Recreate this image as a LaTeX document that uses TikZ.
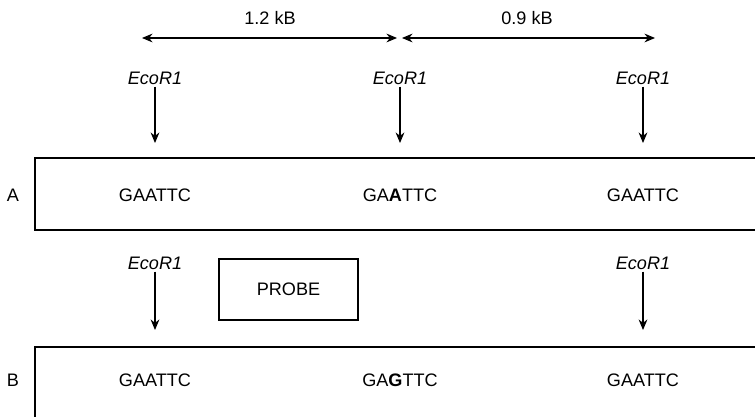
\documentclass[tikz,border=0pt]{standalone}
\usepackage{fontspec}
\setmainfont{Liberation Sans}
\usetikzlibrary{arrows.meta}
\begin{document}
\begin{tikzpicture}[font=\fontsize{10.3}{12}\selectfont, >={Stealth[length=6pt,width=5pt]}, line width=0.6pt]
    \useasboundingbox (0,0) rectangle (15.1,8.34);
    \tikzset{site/.style={font=\fontsize{10.3}{12}\selectfont\itshape, inner sep=1pt},
             probebox/.style={draw, minimum width=2.78cm, minimum height=1.22cm}}

    % Fragment lengths
    \coordinate (leftA) at (2.84,7.58);
    \coordinate (rightA) at (7.94,7.58);
    \coordinate (leftB) at (8.04,7.58);
    \coordinate (rightB) at (13.1,7.58);
    \draw[<->] (leftA) -- (rightA);
    \draw[<->] (leftB) -- (rightB);
    \node (lenA) at (5.4,7.98) {1.2 kB};
    \node (lenB) at (10.54,7.98) {0.9 kB};

    % Strand A
    \draw[line width=0.8pt] (15.1,5.18) -| (0.7,3.74) -- (15.1,3.74);
    \node (labelA) at (0.26,4.44) {A};
    \foreach \x/\n in {3.1/1,8.0/2,12.86/3} {
        \node[site] (ecoA\n) at (\x,6.78) {EcoR1};
        \coordinate (cutA\n) at (\x,5.48);
        \draw[->] (ecoA\n) -- (cutA\n);
    }
    \node (seqA1) at (3.1,4.44) {GAATTC};
    \node (seqA2) at (8.0,4.44) {GA\textbf{A}TTC};
    \node (seqA3) at (12.86,4.44) {GAATTC};

    % Probe
    \node[probebox] (probe) at (5.77,2.55) {PROBE};

    % Strand B
    \draw[line width=0.8pt] (15.1,1.4) -| (0.7,0);
    \node (labelB) at (0.26,0.74) {B};
    \foreach \x/\n in {3.1/1,12.86/3} {
        \node[site] (ecoB\n) at (\x,3.08) {EcoR1};
        \coordinate (cutB\n) at (\x,1.74);
        \draw[->] (ecoB\n) -- (cutB\n);
    }
    \node (seqB1) at (3.1,0.74) {GAATTC};
    \node (seqB2) at (8.0,0.74) {GA\textbf{G}TTC};
    \node (seqB3) at (12.86,0.74) {GAATTC};

\end{tikzpicture}
\end{document}
